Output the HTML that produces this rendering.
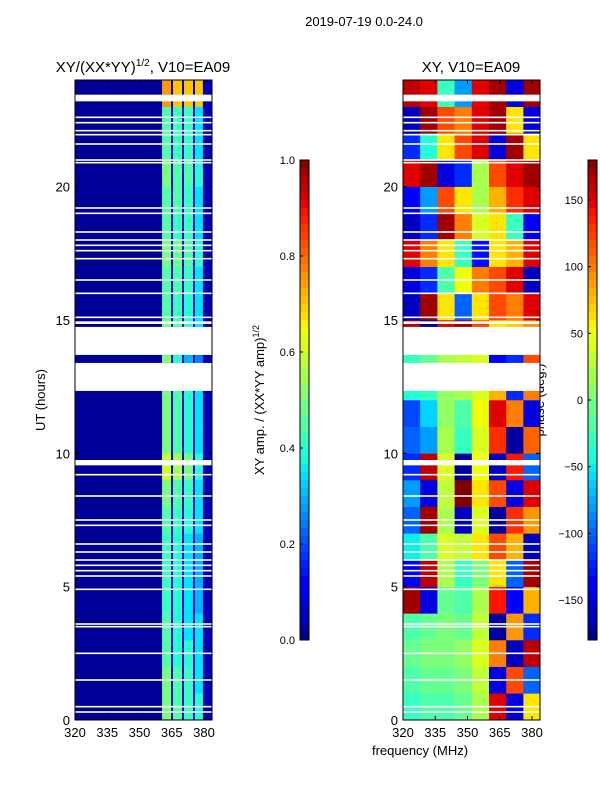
<!DOCTYPE html>
<html><head><meta charset="utf-8"><style>
body{margin:0;background:#fff;}
svg text{font-family:"Liberation Sans","DejaVu Sans",sans-serif;fill:#000;}
</style></head><body>
<svg id="c" width="600" height="800" xmlns="http://www.w3.org/2000/svg">
<text x="364" y="26" font-size="13" text-anchor="middle">2019-07-19 0.0-24.0</text>
<text x="143" y="72" font-size="15" text-anchor="middle">XY/(XX*YY)<tspan font-size="10" dy="-6">1/2</tspan><tspan dy="6">, V10=EA09</tspan></text>
<text x="471" y="72" font-size="15" text-anchor="middle">XY, V10=EA09</text>
<text x="45" y="400" font-size="13" text-anchor="middle" transform="rotate(-90 45 400)">UT (hours)</text>
<text x="420" y="755" font-size="13" text-anchor="middle">frequency (MHz)</text>
<text x="264" y="400" font-size="13" text-anchor="middle" transform="rotate(-90 264 400)">XY amp. / (XX*YY amp)<tspan font-size="9" dy="-5">1/2</tspan></text>
<text x="544" y="400" font-size="13" text-anchor="middle" transform="rotate(-90 544 400)">phase (deg.)</text>
<g id="gL"></g>
<g id="gR"></g>
<g id="gA"></g>
</svg>
<script>
const utEdges=[0,1,2,3,4,5,6,7,8,9,10,11,12,13,14,15,16,17,18,19,20,21,22,23,24];
const ampBands=[[320,360.5],[360.5,364.7],[365.6,369.8],[370.7,374.9],[375.8,379.5],[379.5,384]];
const ampGaps=[[364.7,365.6],[369.8,370.7],[374.9,375.8]];
const ampRows=[
[0.02,0.5,0.45,0.42,0.4,0.05],[0.02,0.5,0.45,0.42,0.35,0.05],[0.02,0.45,0.4,0.4,0.35,0.05],[0.02,0.45,0.4,0.35,0.35,0.05],
[0.02,0.42,0.4,0.35,0.3,0.05],[0.02,0.42,0.4,0.35,0.3,0.05],[0.02,0.42,0.4,0.35,0.3,0.05],[0.02,0.45,0.42,0.4,0.35,0.05],
[0.02,0.5,0.45,0.42,0.35,0.05],[0.02,0.6,0.55,0.5,0.4,0.05],[0.02,0.5,0.45,0.4,0.35,0.05],[0.02,0.5,0.45,0.4,0.35,0.05],
[0.02,0.5,0.45,0.4,0.35,0.05],[0.02,0.5,0.4,0.3,0.25,0.05],[0.02,0.5,0.45,0.4,0.35,0.05],[0.02,0.45,0.42,0.4,0.35,0.05],
[0.02,0.45,0.45,0.42,0.35,0.05],[0.02,0.5,0.48,0.45,0.4,0.05],[0.02,0.45,0.42,0.42,0.35,0.05],[0.02,0.45,0.45,0.42,0.35,0.05],
[0.02,0.5,0.45,0.45,0.4,0.05],[0.02,0.45,0.42,0.42,0.35,0.05],[0.02,0.45,0.42,0.42,0.35,0.05],[0.02,0.75,0.7,0.7,0.7,0.05]];
const phaseFreqEdges=[320,328,336,344,352,360,368,376,384];
const phaseRows=[
[-30,-20,-20,-10,20,150,-150,60],[-20,-10,-10,0,30,-150,120,-100],[-10,0,0,10,40,100,-160,160],[-20,-10,0,-10,30,-170,90,-120],
[170,-150,-10,-20,20,140,-140,80],[-140,160,20,-30,0,60,-100,170],[-50,-20,40,30,60,120,80,-160],[-100,170,20,-160,40,-170,130,90],
[-80,-150,30,180,60,120,-150,150],[-120,160,40,-170,50,-160,140,-100],[-100,-80,20,-30,40,130,-170,110],[-110,-60,10,-20,50,150,100,-150],
[-40,-30,10,20,40,80,-120,100],[-30,-10,20,30,40,-140,-120,120],[160,-170,150,170,120,60,70,90],[-160,170,60,-100,60,120,100,150],
[-150,-120,-20,50,100,120,150,-160],[150,100,60,-30,-130,60,80,150],[-160,-120,170,100,40,60,-30,-140],[-140,-80,120,60,20,80,130,150],
[150,170,-150,-120,20,120,150,170],[-120,-40,60,120,150,-150,170,60],[-160,170,120,100,150,170,60,-150],[160,150,-30,-80,150,170,-150,170]];
const wideGaps=[[23.2,23.45],[12.34,13.39],[13.69,14.74],[14.85,14.95],[9.55,9.75]];
const thinGaps=[22.6,22.4,22.1,21.95,21.6,21.0,20.9,19.2,19.0,18.3,18.0,17.8,17.6,17.3,16.5,16.0,15.1,9.2,8.4,7.5,7.3,6.6,6.3,6.0,5.8,5.6,5.4,4.9,3.6,3.5,2.5,1.5,0.5,0.3];
const xTicks=[320,335,350,365,380];
const yTicks=[0,5,10,15,20];
const ampTicks=[0.0,0.2,0.4,0.6,0.8,1.0];
const phaseTicks=[-150,-100,-50,0,50,100,150];

const NS='http://www.w3.org/2000/svg';
function interp(p,x){for(let i=1;i<p.length;i++){if(x<=p[i][0]){const a=p[i-1],b=p[i];return a[1]+(b[1]-a[1])*(x-a[0])/(b[0]-a[0]);}}return p[p.length-1][1];}
function jet(t){t=Math.max(0,Math.min(1,t));
const r=interp([[0,0],[0.35,0],[0.66,1],[0.89,1],[1,0.5]],t),g=interp([[0,0],[0.125,0],[0.375,1],[0.64,1],[0.91,0],[1,0]],t),b=interp([[0,0.5],[0.11,1],[0.34,1],[0.65,0],[1,0]],t);
return `rgb(${Math.round(r*255)},${Math.round(g*255)},${Math.round(b*255)})`;}
function mk(tag,attrs,parent){const e=document.createElementNS(NS,tag);for(const k in attrs)e.setAttribute(k,attrs[k]);parent.appendChild(e);return e;}
const Y0=720,Y1=80;
function yS(u){return Y0-(u/24)*(Y0-Y1);}
function xS(x0,f){return x0+(f-320)*(129/60);}
const panels=[{x0:75,x1:212},{x0:403,x1:540}];
const gL=document.getElementById('gL'),gR=document.getElementById('gR'),gA=document.getElementById('gA');
ampRows.forEach((row,i)=>{row.forEach((v,j)=>{
 const xa=xS(75,ampBands[j][0]),xb=Math.min(212,xS(75,ampBands[j][1]));
 const r=mk('rect',{x:xa,y:yS(utEdges[i+1]),width:Math.max(0,xb-xa)+0.3,height:yS(utEdges[i])-yS(utEdges[i+1])+0.3,fill:jet(v)},gL);
 
 
});
 ampGaps.forEach(g=>{const xa=xS(75,g[0]),xb=xS(75,g[1]);
  const r=mk('rect',{x:xa,y:yS(utEdges[i+1]),width:xb-xa,height:yS(utEdges[i])-yS(utEdges[i+1])+0.3,fill:jet(0.08)},gL);
  
  });
});
phaseRows.forEach((row,i)=>{row.forEach((v,j)=>{
 const xa=xS(403,phaseFreqEdges[j]),xb=Math.min(540,xS(403,phaseFreqEdges[j+1]));
 const r=mk('rect',{x:xa,y:yS(utEdges[i+1]),width:xb-xa+0.3,height:yS(utEdges[i])-yS(utEdges[i+1])+0.3,fill:jet((v+180)/360)},gR);
 
 
});});
panels.forEach(p=>{
 wideGaps.forEach(g=>{const r=mk('rect',{x:p.x0,y:yS(g[1]),width:p.x1-p.x0,height:yS(g[0])-yS(g[1]),fill:'#fff'},gA);
  
  });
 thinGaps.forEach(u=>{const r=mk('rect',{x:p.x0,y:yS(u)-0.8,width:p.x1-p.x0,height:1.6,fill:'#fff'},gA);
  
  });
});
panels.forEach((p,pi)=>{
 const f=mk('rect',{x:p.x0,y:Y1,width:p.x1-p.x0,height:Y0-Y1,fill:'none',stroke:'#000','stroke-width':1},gA);
 
 
 xTicks.forEach(t=>{const x=xS(p.x0,t);
  mk('line',{x1:x,x2:x,y1:Y0,y2:Y0-4,stroke:'#000'},gA);mk('line',{x1:x,x2:x,y1:Y1,y2:Y1+4,stroke:'#000'},gA);
  const tx=mk('text',{x:x,y:Y0+17,'font-size':13,'text-anchor':'middle'},gA);tx.textContent=t;
  
  });
 yTicks.forEach(t=>{const y=yS(t);
  mk('line',{x1:p.x0,x2:p.x0+4,y1:y,y2:y,stroke:'#000'},gA);mk('line',{x1:p.x1,x2:p.x1-4,y1:y,y2:y,stroke:'#000'},gA);
  const tx=mk('text',{x:p.x0-5,y:y+5,'font-size':13,'text-anchor':'end'},gA);tx.textContent=t;
  
  });
});
function colorbar(x,ticks,lo,hi,name,fmt){
 const n=60;for(let k=0;k<n;k++){const r=mk('rect',{x:x,y:640-(k+1)*8,width:9,height:8.3,fill:jet((k+0.5)/n)},gA);
  
  }
 const f=mk('rect',{x:x,y:160,width:9,height:480,fill:'none',stroke:'#000'},gA);
 
 
 ticks.forEach(t=>{const y=640-(t-lo)/(hi-lo)*480;
  mk('line',{x1:x,x2:x+3,y1:y,y2:y,stroke:'#000'},gA);
  const tx=mk('text',{x:x-5,y:y+4,'font-size':11,'text-anchor':'end'},gA);tx.textContent=fmt(t);
  
  });
}
colorbar(300,ampTicks,0,1,'amp-colorbar',t=>t.toFixed(1));
colorbar(588,phaseTicks,-180,180,'phase-colorbar',t=>t<0?'\u2212'+(-t):String(t));
</script>
</body></html>
